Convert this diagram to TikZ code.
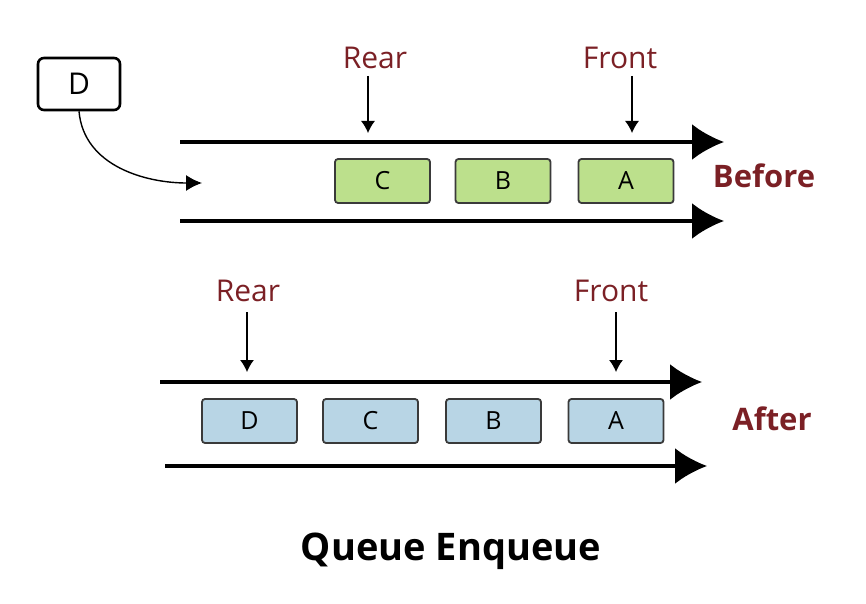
\documentclass[tikz,border=0pt]{standalone}
\usepackage{fontspec}
\setmainfont{Open Sans}
\usetikzlibrary{arrows.meta}
\definecolor{boxgreen}{HTML}{BCE08C}
\definecolor{boxblue}{HTML}{B8D5E5}
\definecolor{boxedge}{HTML}{3A3A3A}
\definecolor{labelred}{HTML}{7B2025}
\begin{document}
\begin{tikzpicture}[x=0.5pt,y=-0.5pt,
  cell/.style={draw=boxedge,line width=0.9pt,rounded corners=1.5pt,minimum width=47.5pt,minimum height=22pt,inner sep=0pt,font=\fontsize{12.5}{14}\selectfont},
  greencell/.style={cell,fill=boxgreen},
  bluecell/.style={cell,fill=boxblue},
  pipe/.style={line width=1.6pt,-{Latex[length=16pt,width=18pt]}},
  pointer/.style={line width=0.6pt,-{Latex[length=6pt,width=7pt]}},
  tag/.style={text=labelred,font=\fontsize{15}{18}\selectfont},
  phase/.style={text=labelred,font=\fontsize{15.5}{20}\selectfont\bfseries}]
\useasboundingbox (0,0) rectangle (866,604);
% new element waiting
\node[draw=black,line width=1.3pt,rounded corners=3pt,minimum width=41pt,minimum height=26pt,inner sep=0pt,font=\fontsize{15}{18}\selectfont] (newd) at (79,84) {D};
\coordinate (entry) at (202,183);
\draw[line width=0.7pt,-{Latex[length=8pt,width=8pt]}] (newd.south) to[out=-85,in=180] (entry);
% before
\coordinate (b1s) at (180,142); \coordinate (b1e) at (724,142);
\coordinate (b2s) at (180,221); \coordinate (b2e) at (724,221);
\draw[pipe] (b1s) -- (b1e);
\draw[pipe] (b2s) -- (b2e);
\node[greencell] (bc) at (382.5,181) {C};
\node[greencell] (bb) at (503,181) {B};
\node[greencell] (ba) at (626,181) {A};
\node[tag] (brear) at (375,58) {Rear};
\node[tag] (bfront) at (620,58) {Front};
\coordinate (brearp) at (368,133); \coordinate (bfrontp) at (632,133);
\draw[pointer] (368,76) -- (brearp);
\draw[pointer] (632,76) -- (bfrontp);
\node[phase] (before) at (764,176) {Before};
% after
\coordinate (a1s) at (160,382); \coordinate (a1e) at (702,382);
\coordinate (a2s) at (165,466); \coordinate (a2e) at (707,466);
\draw[pipe] (a1s) -- (a1e);
\draw[pipe] (a2s) -- (a2e);
\node[bluecell] (ad) at (249.5,421) {D};
\node[bluecell] (ac) at (370.5,421) {C};
\node[bluecell] (ab) at (493.5,421) {B};
\node[bluecell] (aa) at (616,421) {A};
\node[tag] (arear) at (248,291) {Rear};
\node[tag] (afront) at (611,291) {Front};
\coordinate (arearp) at (247,372); \coordinate (afrontp) at (616,372);
\draw[pointer] (247,312) -- (arearp);
\draw[pointer] (616,312) -- (afrontp);
\node[phase] (after) at (772,419) {After};
% caption
\node[font=\fontsize{19}{22}\selectfont\bfseries] (caption) at (451,551) {Queue Enqueue};
\end{tikzpicture}
\end{document}
